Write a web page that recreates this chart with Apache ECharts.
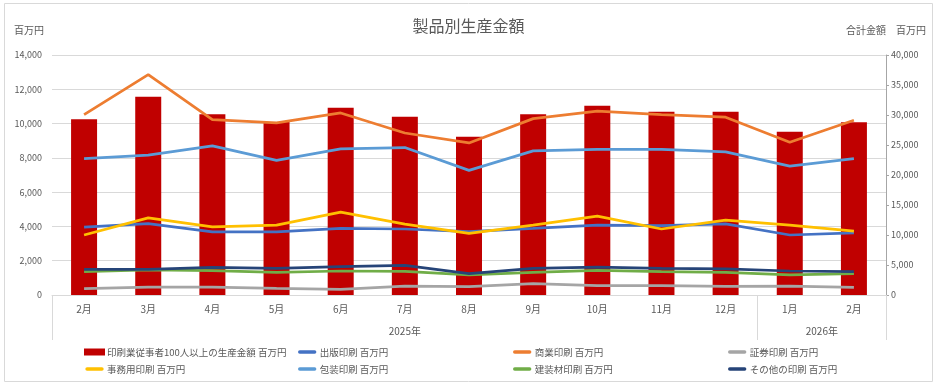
<!DOCTYPE html>
<html>
<head>
<meta charset="utf-8">
<script src="https://cdn.jsdelivr.net/npm/echarts@6/dist/echarts.min.js"></script>
<style>
html,body{margin:0;padding:0;background:#fff;}
#c{width:937px;height:385px;}
</style>
</head>
<body>
<div id="c"></div>
<script>
const months = ['2月','3月','4月','5月','6月','7月','8月','9月','10月','11月','12月','1月','2月'];
const yearLabels = ['2025年','2026年'];
const yearCenters = [5.5, 12];
const yearBounds = [0, 11, 13];
const leftTicks = [0, 14000, 2000];
const rightTicks = [0, 40000, 5000];

const totalName = '印刷業従事者100人以上の生産金額 百万円';
const total = [29280, 33050, 30110, 28830, 31220, 29720, 26390, 30110, 31560, 30560, 30560, 27220, 28780];

const shuppan = [3960, 4170, 3680, 3680, 3880, 3850, 3700, 3880, 4080, 4040, 4150, 3500, 3630];
const shogyo = [10520, 12860, 10230, 10040, 10620, 9450, 8870, 10290, 10720, 10520, 10370, 8910, 10190];
const shoken = [370, 460, 460, 390, 330, 520, 490, 660, 540, 540, 500, 520, 450];
const jimu = [3500, 4500, 3980, 4080, 4840, 4140, 3600, 4080, 4600, 3850, 4370, 4080, 3730];
const hoso = [7960, 8160, 8700, 7850, 8520, 8600, 7270, 8410, 8500, 8490, 8350, 7520, 7960];
const kenso = [1360, 1460, 1420, 1320, 1400, 1380, 1170, 1320, 1440, 1360, 1320, 1170, 1240];
const sonota = [1500, 1500, 1610, 1550, 1650, 1730, 1250, 1550, 1630, 1550, 1520, 1400, 1360];

const lineSeries = [
  ['出版印刷 百万円', shuppan, '#4472C4'],
  ['商業印刷 百万円', shogyo, '#ED7D31'],
  ['証券印刷 百万円', shoken, '#A5A5A5'],
  ['事務用印刷 百万円', jimu, '#FFC000'],
  ['包装印刷 百万円', hoso, '#5B9BD5'],
  ['建装材印刷 百万円', kenso, '#70AD47'],
  ['その他の印刷 百万円', sonota, '#264478']
];

const FONT = '"Noto Sans CJK JP", "Noto Sans", sans-serif';
const TXT = '#595959';
const GRID = '#d9d9d9';
const LINE_ICON = 'path://M0,0 L0,0 M2,2 H19 A2,2 0 0 1 19,6 H2 A2,2 0 0 1 2,2 Z M21,8 L21,8';

const legendOrder = [totalName].concat(lineSeries.map(s => s[0]));
const cols = [84, 298, 513, 728];
const legends = cols.map((x, i) => ({
  orient: 'vertical',
  left: x,
  top: 345,
  itemWidth: 21,
  itemHeight: 7,
  itemGap: 3,
  padding: 0,
  textStyle: {color: TXT, fontSize: 9.5, fontFamily: FONT, lineHeight: 14, padding: [0,0,0,-3]},
  data: [legendOrder[i], legendOrder[i + 4]].map(n => ({name: n, icon: n === totalName ? 'rect' : LINE_ICON}))
}));

const chart = echarts.init(document.getElementById('c'));
chart.setOption({
  animation: false,
  textStyle: {fontFamily: FONT},
  title: {
    text: '製品別生産金額',
    left: 'center',
    top: 13,
    textStyle: {color: TXT, fontSize: 16, fontWeight: 'normal', fontFamily: FONT}
  },
  graphic: [{
    type: 'rect', shape: {x: 4.5, y: 3.5, width: 928, height: 378},
    style: {fill: 'none', stroke: GRID, lineWidth: 1}, silent: true
  }],
  legend: legends,
  grid: {left: 52, right: 51, top: 55, bottom: 90, containLabel: false},
  xAxis: [{
    type: 'category',
    data: months,
    position: 'bottom',
    boundaryGap: true,
    axisLine: {show: true, lineStyle: {color: GRID}},
    axisTick: {show: false},
    axisLabel: {color: TXT, fontSize: 10, margin: 9, fontFamily: FONT}
  }, {
    type: 'value',
    position: 'bottom',
    min: yearBounds[0],
    max: yearBounds[yearBounds.length - 1],
    axisLine: {show: false},
    splitLine: {show: false},
    axisTick: {show: true, customValues: yearBounds, length: 45, lineStyle: {color: GRID}},
    axisLabel: {
      show: true, customValues: yearCenters, margin: 31, color: TXT, fontSize: 10, fontFamily: FONT,
      formatter: v => { const i = yearCenters.indexOf(v); return i >= 0 ? yearLabels[i] : ''; }
    }
  }],
  yAxis: [{
    type: 'value',
    min: leftTicks[0], max: leftTicks[1], interval: leftTicks[2],
    name: '百万円',
    nameLocation: 'end',
    nameGap: 20,
    nameTextStyle: {color: TXT, fontSize: 10, align: 'right', padding: [0, 8, 0, 0], fontFamily: FONT},
    axisLine: {show: false},
    axisTick: {show: false},
    axisLabel: {color: TXT, fontSize: 9, margin: 10, fontFamily: FONT,
      formatter: v => v.toLocaleString('en-US')},
    splitLine: {lineStyle: {color: GRID}}
  }, {
    type: 'value',
    position: 'right',
    min: rightTicks[0], max: rightTicks[1], interval: rightTicks[2],
    name: '合計金額　百万円',
    nameLocation: 'end',
    nameGap: 20,
    nameTextStyle: {color: TXT, fontSize: 10, align: 'center', fontFamily: FONT},
    axisLine: {show: true, lineStyle: {color: '#a6a6a6'}},
    axisTick: {show: true, length: 3, lineStyle: {color: '#a6a6a6'}},
    axisLabel: {color: TXT, fontSize: 9, margin: 5, fontFamily: FONT,
      formatter: v => v.toLocaleString('en-US')},
    splitLine: {show: false}
  }],
  series: [{
    name: totalName,
    type: 'bar',
    xAxisIndex: 0,
    yAxisIndex: 1,
    data: total,
    barWidth: 26,
    itemStyle: {color: '#C00000'},
    z: 1
  }].concat(lineSeries.map(s => ({
    name: s[0],
    type: 'line',
    xAxisIndex: 0,
    yAxisIndex: 0,
    data: s[1],
    symbol: 'none',
    lineStyle: {color: s[2], width: 2.75},
    itemStyle: {color: s[2]},
    z: 3
  })))
});
</script>
</body>
</html>
